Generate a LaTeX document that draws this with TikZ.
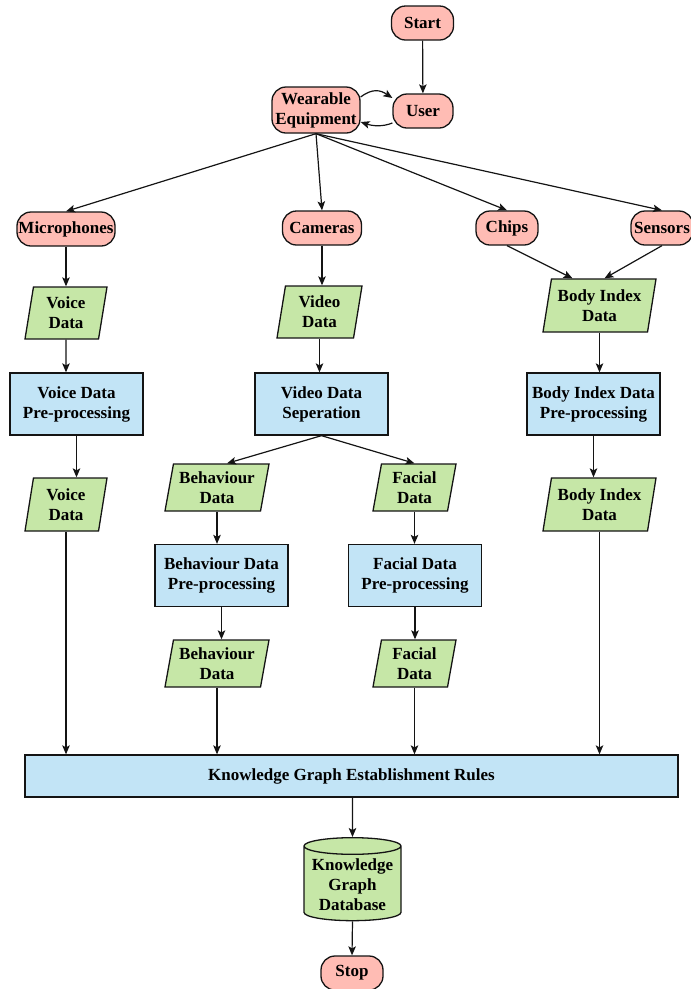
\documentclass[tikz,border=0pt]{standalone}
\usepackage{fontspec}
\setmainfont{Liberation Serif}
\usetikzlibrary{shapes.geometric,arrows.meta}

\definecolor{termfill}{RGB}{255,188,180}
\definecolor{datafill}{RGB}{198,231,167}
\definecolor{procfill}{RGB}{194,228,246}
\definecolor{edgecol}{RGB}{20,20,20}

\tikzset{
  base/.style={draw=edgecol, line width=1.3pt, align=center, inner sep=1pt,
    font=\fontsize{17}{20}\selectfont\bfseries},
  term/.style={base, fill=termfill, rounded corners=14pt,
    minimum width=#1, minimum height=34pt},
  term/.default=62pt,
  iodata/.style n args={2}{base, fill=datafill, trapezium,
    trapezium left angle=76, trapezium right angle=104,
    trapezium stretches body, minimum width=#1, minimum height=#2},
  proc/.style={base, fill=procfill, minimum width=133pt, minimum height=62pt},
  store/.style={base, fill=datafill, cylinder, shape border rotate=90,
    aspect=0.2, minimum width=97pt, minimum height=83pt},
  arr/.style={draw=edgecol, line width=1.2pt,
    -{Stealth[length=9pt,width=7.5pt,inset=2pt]}}
}

\begin{document}
\begin{tikzpicture}[x=1pt,y=-1pt]
\useasboundingbox (0,0) rectangle (691,989);

% terminals and sources
\node[term] (start) at (422.5,23) {Start};
\node[term=60pt] (user) at (423,111) {User};
\node[term=88pt, minimum height=46pt] (wear) at (316,110) {Wearable\\Equipment};
\node[term=98pt] (mic) at (66,229) {Microphones};
\node[term=79pt] (cam) at (322,228) {Cameras};
\node[term] (chip) at (507,228) {Chips};
\node[term] (sens) at (662,228) {Sensors};

% raw data
\node[iodata={82pt}{52pt}] (vd1) at (66,313) {Voice\\Data};
\node[iodata={85pt}{52pt}] (vid) at (319.5,312) {Video\\Data};
\node[iodata={113pt}{53pt}] (bi1) at (599.5,305.5) {Body Index\\Data};

% first processing stage
\node[proc] (vdp) at (76.5,404) {Voice Data\\Pre-processing};
\node[proc] (vds) at (321.5,404) {Video Data\\Seperation};
\node[proc] (bip) at (593.5,404) {Body Index Data\\Pre-processing};

\node[iodata={82pt}{53pt}] (vd2) at (66,504.5) {Voice\\Data};
\node[iodata={104pt}{47pt}] (beh1) at (217,487.5) {Behaviour\\Data};
\node[iodata={83pt}{47pt}] (fac1) at (414.5,487.5) {Facial\\Data};
\node[iodata={113pt}{53pt}] (bi2) at (599.5,504.5) {Body Index\\Data};

% second processing stage
\node[proc] (bdp) at (221.5,575.5) {Behaviour Data\\Pre-processing};
\node[proc] (fdp) at (415,575.5) {Facial Data\\Pre-processing};
\node[iodata={104pt}{47pt}] (beh2) at (217,663.5) {Behaviour\\Data};
\node[iodata={83pt}{47pt}] (fac2) at (414.5,663.5) {Facial\\Data};

% rules, storage, end
\node[proc, minimum width=653pt, minimum height=42pt] (kg) at (351.5,776)
  {Knowledge Graph Establishment Rules};
\node[store] (db) at (352.5,884.5) {Knowledge\\Graph\\Database};
\node[term] (stop) at (352,973) {Stop};

% connectors
\draw[arr] (start) -- (user);
\draw[arr] ([yshift=13pt]wear.east) .. controls +(12pt,9pt) and +(-12pt,8pt) .. ([yshift=13pt]user.west);
\draw[arr] ([yshift=-12pt]user.west) .. controls +(-10pt,-4pt) and +(12pt,-4pt) .. ([yshift=-12pt]wear.east);

\draw[arr] (wear.south) -- (mic.north);
\draw[arr] (wear.south) -- (cam.north);
\draw[arr] (wear.south) -- (chip.north);
\draw[arr] (wear.south) -- (sens.north);

\draw[arr] (mic) -- (vd1);
\draw[arr] (vd1) -- (vd1 |- vdp.north);
\draw[arr] (vdp.south) -- (vdp.south |- vd2.north);
\draw[arr] (vd2.south) -- (vd2.south |- kg.north);

\draw[arr] (cam.south) -- (cam.south |- vid.north);
\draw[arr] (vid.south) -- (vid.south |- vds.north);
\draw[arr] (vds.south) -- ([xshift=10pt]beh1.north);
\draw[arr] (vds.south) -- (fac1.north);
\draw[arr] (beh1.south) -- (beh1.south |- bdp.north);
\draw[arr] (bdp.south) -- (bdp.south |- beh2.north);
\draw[arr] (beh2.south) -- (beh2.south |- kg.north);
\draw[arr] (fac1.south) -- (fac1.south |- fdp.north);
\draw[arr] (fdp.south) -- (fdp.south |- fac2.north);
\draw[arr] (fac2.south) -- (fac2.south |- kg.north);

\draw[arr] (chip.south) -- ([xshift=-27pt]bi1.north);
\draw[arr] (sens.south) -- ([xshift=5pt]bi1.north);
\draw[arr] (bi1.south) -- (bi1.south |- bip.north);
\draw[arr] (bip.south) -- (bip.south |- bi2.north);
\draw[arr] (bi2.south) -- (bi2.south |- kg.north);

\draw[arr] (kg.south -| db) -- (db.north);
\draw[arr] (db.south) -- (stop.north);
\end{tikzpicture}
\end{document}
